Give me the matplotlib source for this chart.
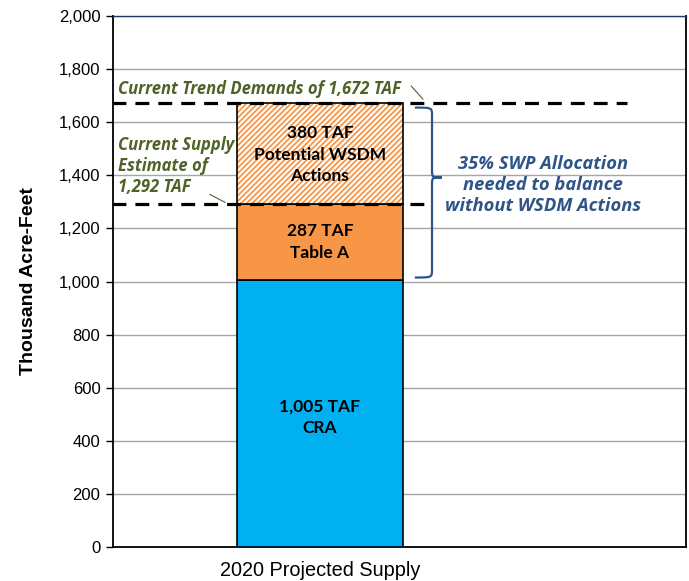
import matplotlib
matplotlib.use('Agg')
import matplotlib.pyplot as plt
from matplotlib.path import Path
from matplotlib.patches import PathPatch
from matplotlib.ticker import FuncFormatter

# Data
category = ['2020 Projected Supply']
cra = [1005]
table_a = [287]
wsdm = [380]
trend_demand = 1672
supply_estimate = 1292
seg_labels = ['1,005 TAF\nCRA', '287 TAF\nTable A', '380 TAF\nPotential WSDM\nActions']

plt.rcParams['font.family'] = ['Liberation Sans', 'DejaVu Sans']
plt.rcParams['hatch.linewidth'] = 1.3
plt.rcParams['lines.scale_dashes'] = False

fig = plt.figure(figsize=(6.89, 5.81), dpi=100)
ax = fig.add_axes([113/689, 1-547/581, (686-113)/689, (547-16)/581])

x = [0]
w = 0.6
ax.bar(x, cra, w, color='#00B0F0', edgecolor='black', linewidth=1.2, zorder=3)
ax.bar(x, table_a, w, bottom=cra, color='#F79646', edgecolor='black', linewidth=1.2, zorder=3)
b3 = [c + t for c, t in zip(cra, table_a)]
ax.bar(x, wsdm, w, bottom=b3, color='white', edgecolor='#F79646', hatch='//////',
       linewidth=0, zorder=3)
ax.bar(x, wsdm, w, bottom=b3, fill=False, edgecolor='black', linewidth=1.2, zorder=4)

# segment labels
lab_font = dict(fontfamily=['Lato', 'DejaVu Sans'], fontweight='bold', fontsize=12.5,
                ha='center', va='center', linespacing=1.45, zorder=6)
ax.text(0, cra[0] / 2 - 15, seg_labels[0], **lab_font)
ax.text(0, cra[0] + table_a[0] / 2, seg_labels[1], **lab_font)
ax.text(0, b3[0] + wsdm[0] / 2 - 4, seg_labels[2], **lab_font)

# dashed reference lines
ax.plot([-0.75, 1.11], [trend_demand] * 2, color='black', lw=2.3, dashes=(10, 6.5), zorder=5)
ax.plot([-0.75, 0.376], [supply_estimate] * 2, color='black', lw=2.3, dashes=(10, 6.5), zorder=5)

green = '#4F6228'
note_font = dict(color=green, fontstyle='italic', fontweight='bold', fontsize=12,
                 fontfamily=['Open Sans', 'DejaVu Sans'])
ax.text(-0.73, 1690, 'Current Trend Demands of 1,672 TAF', ha='left', va='bottom', **note_font)
ax.plot([0.33, 0.372], [1736, 1687], color=green, lw=0.8, zorder=5)
ax.text(-0.73, 1322, 'Current Supply\nEstimate of\n1,292 TAF', ha='left', va='bottom',
        linespacing=1.2, **note_font)
ax.plot([-0.398, -0.343], [1328, 1298], color=green, lw=0.8, zorder=5)

# curly brace
blue = '#2F5487'
x0, x1, x2 = 0.343, 0.405, 0.44
ytop, ytip, ybot, r = 1655, 1392, 1015, 30
verts = [(x0, ytop), (x1, ytop), (x1, ytop), (x1, ytop - r),
         (x1, ytip + r),
         (x1, ytip), (x1, ytip), (x2, ytip),
         (x1, ytip), (x1, ytip), (x1, ytip - r),
         (x1, ybot + r),
         (x1, ybot), (x1, ybot), (x0, ybot)]
codes = [Path.MOVETO, Path.CURVE4, Path.CURVE4, Path.CURVE4,
         Path.LINETO,
         Path.CURVE4, Path.CURVE4, Path.CURVE4,
         Path.CURVE4, Path.CURVE4, Path.CURVE4,
         Path.LINETO,
         Path.CURVE4, Path.CURVE4, Path.CURVE4]
ax.add_patch(PathPatch(Path(verts, codes), fill=False, edgecolor=blue, lw=1.6, zorder=5))
ax.text(0.806, 1362, '35% SWP Allocation\nneeded to balance\nwithout WSDM Actions',
        color=blue, fontstyle='italic', fontweight='bold', fontsize=13.2,
        fontfamily=['Open Sans', 'DejaVu Sans'], ha='center', va='center', linespacing=1.22)

# axes styling
ax.set_xlim(-0.748, 1.323)
ax.set_ylim(0, 2000)
ax.set_yticks(range(0, 2001, 200))
ax.yaxis.set_major_formatter(FuncFormatter(lambda v, p: f'{int(v):,}'))
ax.set_xticks(x)
ax.set_xticklabels(category, fontsize=14.3)
ax.tick_params(axis='x', length=0, pad=10)
ax.tick_params(axis='y', labelsize=12, length=5, width=1, direction='out', pad=4)
ax.grid(axis='y', color='#A6A6A6', lw=1, zorder=0)
ax.set_axisbelow(True)
for s in ['left', 'bottom', 'right']:
    ax.spines[s].set_color('black')
    ax.spines[s].set_linewidth(1.3)
ax.spines['top'].set_color('#1F3864')
ax.spines['top'].set_linewidth(1)
ax.set_ylabel('Thousand Acre-Feet', fontsize=14, fontweight='bold', labelpad=16)

fig.savefig('out.png', dpi=100)
